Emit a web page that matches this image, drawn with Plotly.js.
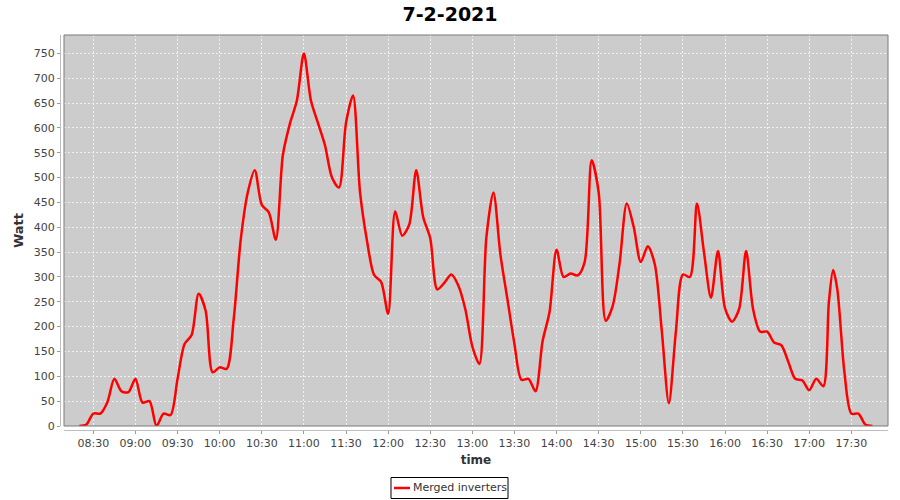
<!DOCTYPE html>
<html>
<head>
<meta charset="utf-8">
<script src="https://cdn.plot.ly/plotly-3.0.1.min.js"></script>
<style>
  html, body { margin: 0; padding: 0; background: #ffffff; }
  #chart { width: 900px; height: 500px; }
</style>
</head>
<body>
<div id="chart"></div>
<script>
// ---- Data ----
const chartTitle = "7-2-2021";
const seriesName = "Merged inverters";
const day = "2021-02-07";
const times = [
  "08:20","08:25","08:30","08:35","08:40","08:45","08:50","08:55",
  "09:00","09:05","09:10","09:15","09:20","09:25","09:30","09:35","09:40","09:45","09:50","09:55",
  "10:00","10:05","10:10","10:15","10:20","10:25","10:30","10:35","10:40","10:45","10:50","10:55",
  "11:00","11:05","11:10","11:15","11:20","11:25","11:30","11:35","11:40","11:45","11:50","11:55",
  "12:00","12:05","12:10","12:15","12:20","12:25","12:30","12:35","12:40","12:45","12:50","12:55",
  "13:00","13:05","13:10","13:15","13:20","13:25","13:30","13:35","13:40","13:45","13:50","13:55",
  "14:00","14:05","14:10","14:15","14:20","14:25","14:30","14:35","14:40","14:45","14:50","14:55",
  "15:00","15:05","15:10","15:15","15:20","15:25","15:30","15:35","15:40","15:45","15:50","15:55",
  "16:00","16:05","16:10","16:15","16:20","16:25","16:30","16:35","16:40","16:45","16:50","16:55",
  "17:00","17:05","17:10","17:14","17:17","17:20","17:25","17:30","17:35","17:40","17:45"
];
const watt = [
  0, 3, 25, 25, 48, 95, 70, 68,
  95, 47, 50, 0, 25, 22, 95, 165, 183, 266, 232, 108,
  118, 115, 215, 375, 470, 515, 445, 430, 375, 545, 608, 655,
  750, 655, 610, 565, 500, 480, 610, 665, 470, 372, 304, 290,
  226, 432, 383, 405, 515, 420, 378, 275, 288, 305, 283, 235,
  160, 125, 380, 470, 345, 255, 165, 93, 95, 70, 170, 230,
  355, 300, 307, 303, 330, 535, 470, 212, 242, 330, 448, 400,
  330, 362, 325, 190, 46, 190, 305, 300, 448, 350, 258, 352,
  237, 210, 235, 352, 235, 190, 190, 168, 163, 130, 95, 92,
  72, 95, 80, 250, 314, 275, 110, 25, 25, 3, 0
];
const xTickStart = "08:30";
const yTickStep = 50;

// ---- Layout geometry (pixels) ----
const W = 900, H = 500;
const mL = 60, mR = 12, mT = 35, mB = 70;
const gap = 4; // offset between axis lines and plot area
const pw = W - mL - mR, ph = H - mT - mB;
const px = x => (x - mL) / pw;
const py = y => (H - mB - y) / ph;

const xs = times.map(t => day + " " + t + ":00");
const font = "DejaVu Sans, Verdana, sans-serif";

const trace = {
  x: xs, y: watt, type: "scatter", mode: "lines", name: seriesName,
  line: { color: "#ff0000", width: 2.5, shape: "spline", smoothing: 0.8 },
  showlegend: false, cliponaxis: true
};

const layout = {
  width: W, height: H,
  margin: { l: mL, r: mR, t: mT, b: mB, pad: 0 },
  paper_bgcolor: "#ffffff",
  plot_bgcolor: "#cccccc",
  font: { family: font, size: 11, color: "#444444" },
  title: {
    text: "<b>" + chartTitle + "</b>",
    font: { family: font, size: 19, color: "#000000" },
    x: 0.5, xref: "container", xanchor: "center",
    y: 1 - 14 / H, yref: "container", yanchor: "middle"
  },
  xaxis: {
    type: "date",
    domain: [gap / pw, 1],
    anchor: "free", position: 0,
    range: [day + " 08:09:06", day + " 17:56:06"],
    tick0: day + " " + xTickStart + ":00",
    dtick: 30 * 60 * 1000,
    tickformat: "%H:%M",
    showgrid: true, gridcolor: "#f0f0f0", gridwidth: 1, griddash: "2px,2px",
    showline: true, linecolor: "#bdbdbd", linewidth: 1,
    ticks: "outside", ticklen: 3, tickcolor: "#9a9a9a", tickwidth: 1,
    tickfont: { family: font, size: 11, color: "#444444" },
    zeroline: false,
    title: { text: "<b>time</b>", font: { family: font, size: 12, color: "#333333" }, standoff: 6 }
  },
  yaxis: {
    domain: [gap / ph, 1],
    anchor: "free", position: 0,
    range: [0, 787],
    dtick: yTickStep, tick0: 0,
    showgrid: true, gridcolor: "#f0f0f0", gridwidth: 1, griddash: "2px,2px",
    showline: true, linecolor: "#bdbdbd", linewidth: 1,
    ticks: "outside", ticklen: 3, tickcolor: "#9a9a9a", tickwidth: 1,
    tickfont: { family: font, size: 11, color: "#444444" },
    zeroline: false,
    title: { text: "<b>Watt</b>", font: { family: font, size: 13, color: "#333333" }, standoff: 6 }
  },
  shapes: [
    { type: "rect", xref: "x domain", yref: "y domain", x0: 0, x1: 1, y0: 0, y1: 1,
      line: { color: "#7a7a7a", width: 1 }, fillcolor: "rgba(0,0,0,0)", layer: "above" },
    { type: "rect", xref: "paper", yref: "paper",
      x0: px(391), x1: px(508), y0: py(477.5), y1: py(498.5),
      line: { color: "#000000", width: 1 }, fillcolor: "#ffffff" },
    { type: "line", xref: "paper", yref: "paper",
      x0: px(394), x1: px(410), y0: py(488), y1: py(488),
      line: { color: "#ff0000", width: 2.5 } }
  ],
  annotations: [
    { text: seriesName, xref: "paper", yref: "paper", x: px(411), y: py(488),
      xanchor: "left", yanchor: "middle", showarrow: false,
      font: { family: font, size: 11, color: "#333333" } }
  ]
};

Plotly.newPlot("chart", [trace], layout, { displayModeBar: false, staticPlot: true });
</script>
</body>
</html>
